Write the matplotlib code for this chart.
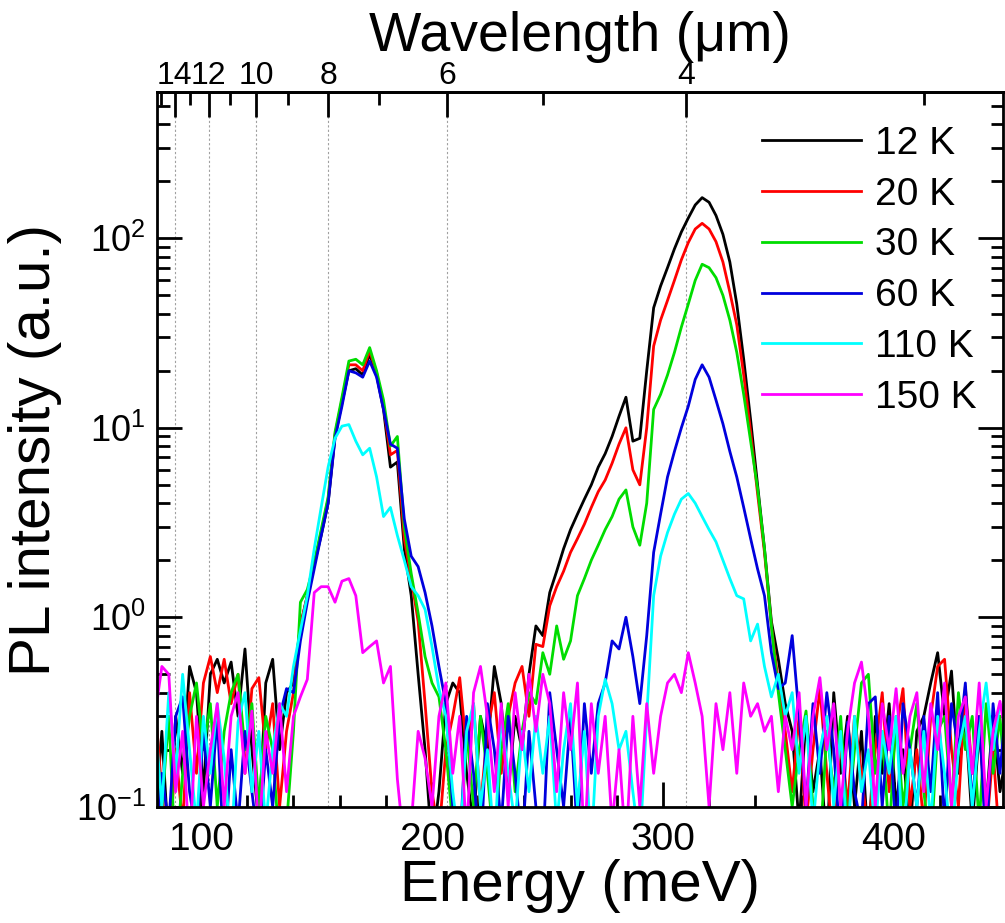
import numpy as np
import matplotlib
matplotlib.use('Agg')
import matplotlib.pyplot as plt
from matplotlib.ticker import FixedLocator, MultipleLocator, LogLocator, NullFormatter

plt.rcParams['font.family'] = ['Liberation Sans', 'DejaVu Sans']
plt.rcParams['mathtext.fontset'] = 'custom'
plt.rcParams['mathtext.rm'] = 'Liberation Sans'

# energy grid (meV), 3 meV steps
energy = np.arange(80, 450, 3)

labels = ['12 K', '20 K', '30 K', '60 K', '110 K', '150 K']
colors = ['#000000', '#ff0000', '#00dd00', '#0000dd', '#00ffff', '#ff00ff']

pl_12K = [0.08, 0.25, 0.06, 0.3, 0.15, 0.55, 0.4, 0.12, 0.5, 0.6, 0.45, 0.58, 0.3, 0.68, 0.2, 0.08, 0.45, 0.6, 0.2, 0.4,
          0.45, 0.9, 1.3, 1.9, 2.7, 4.0, 9.0, 13.5, 20, 20.5, 19, 24.5, 19, 12.5, 6.2, 6.6, 2.3, 1.3, 0.5, 0.2,
          0.06, 0.12, 0.35, 0.45, 0.4, 0.15, 0.08, 0.3, 0.2, 0.55, 0.35, 0.12, 0.3, 0.2, 0.5, 0.9,
          0.8, 1.35, 1.75, 2.3, 2.9, 3.5, 4.2, 5.0, 6.2, 7.3, 9.0, 11.5, 14.5, 8.5, 8.8, 20, 43, 56, 70, 88,
          108, 128, 150, 164, 155, 132, 105, 75, 45, 23, 11, 5, 2.3, 0.95, 0.6, 0.35,
          0.25, 0.08, 0.3, 0.12, 0.2, 0.06, 0.4, 0.15, 0.3, 0.1, 0.25, 0.06, 0.3, 0.15, 0.35, 0.1,
          0.2, 0.07, 0.25, 0.3, 0.45, 0.65, 0.3, 0.52, 0.15, 0.3, 0.08, 0.25, 0.1, 0.3, 0.12, 0.2]
pl_20K = [0.35, 0.12, 0.05, 0.2, 0.08, 0.4, 0.15, 0.45, 0.62, 0.4, 0.6, 0.35, 0.5, 0.15, 0.42, 0.48, 0.2, 0.35, 0.1, 0.25,
          0.4, 0.9, 1.3, 1.9, 2.8, 4.2, 9.2, 14, 21.5, 21.5, 20, 25.5, 19.5, 13, 7.2, 7.6, 2.6, 1.6, 0.95, 0.35,
          0.12, 0.07, 0.2, 0.3, 0.48, 0.2, 0.35, 0.1, 0.25, 0.4, 0.15, 0.3, 0.45, 0.55, 0.3, 0.72,
          0.7, 1.15, 1.45, 1.75, 2.2, 2.6, 3.1, 3.8, 4.6, 5.3, 6.5, 8.2, 10, 6.0, 5.0, 10, 27, 37, 47, 60,
          77, 95, 112, 120, 112, 96, 75, 52, 35, 19, 9.5, 4.5, 2.2, 0.9, 0.45, 0.25,
          0.12, 0.3, 0.08, 0.2, 0.42, 0.15, 0.06, 0.25, 0.1, 0.3, 0.15, 0.07, 0.2, 0.4, 0.12, 0.25,
          0.42, 0.1, 0.2, 0.08, 0.3, 0.55, 0.6, 0.2, 0.1, 0.43, 0.15, 0.3, 0.07, 0.2, 0.06, 0.15]
pl_30K = [0.25, 0.1, 0.3, 0.05, 0.15, 0.3, 0.45, 0.2, 0.35, 0.1, 0.25, 0.4, 0.5, 0.2, 0.35, 0.1, 0.3, 0.2, 0.06, 0.08,
          0.25, 1.2, 1.4, 1.95, 2.9, 4.3, 9.5, 14.5, 22.5, 23, 21.5, 26.5, 20, 14, 8, 9, 3.0, 1.7, 1.05, 0.62,
          0.45, 0.38, 0.2, 0.08, 0.05, 0.25, 0.1, 0.3, 0.15, 0.06, 0.2, 0.35, 0.12, 0.25, 0.4, 0.35,
          0.65, 0.5, 0.9, 0.6, 0.75, 1.3, 1.6, 2.0, 2.4, 2.9, 3.4, 4.2, 4.7, 3.0, 2.4, 4.0, 12.5, 15, 19, 25,
          34, 45, 60, 73, 70, 62, 50, 37, 25, 15, 8.5, 4.8, 2.3, 0.9, 0.4, 0.2,
          0.1, 0.2, 0.32, 0.1, 0.06, 0.25, 0.12, 0.3, 0.08, 0.2, 0.45, 0.5, 0.15, 0.25, 0.07, 0.3,
          0.1, 0.2, 0.35, 0.12, 0.06, 0.25, 0.3, 0.1, 0.4, 0.2, 0.3, 0.08, 0.35, 0.15, 0.3, 0.1]
pl_60K = [0.06, 0.15, 0.08, 0.3, 0.38, 0.12, 0.07, 0.25, 0.1, 0.3, 0.05, 0.2, 0.08, 0.25, 0.12, 0.06, 0.2, 0.1, 0.3, 0.42,
          0.4, 0.75, 1.2, 1.8, 2.7, 4.0, 8.8, 13, 20, 19.5, 18.5, 22.5, 18.5, 12.5, 8.2, 7.8, 3.3, 2.1, 1.85, 1.35,
          0.9, 0.55, 0.35, 0.1, 0.06, 0.3, 0.15, 0.05, 0.35, 0.2, 0.08, 0.3, 0.15, 0.06, 0.25, 0.1,
          0.06, 0.4, 0.2, 0.1, 0.3, 0.07, 0.35, 0.15, 0.35, 0.45, 0.75, 0.68, 1.0, 0.62, 0.35, 0.8, 2.2, 3.5, 5.5, 7.5,
          10, 13, 18, 21.5, 18.5, 14, 10.5, 7.5, 5.5, 3.8, 2.6, 1.8, 1.3, 0.65, 0.42, 0.45,
          0.8, 0.3, 0.1, 0.35, 0.15, 0.4, 0.2, 0.06, 0.28, 0.12, 0.08, 0.35, 0.38, 0.1, 0.3, 0.07,
          0.35, 0.2, 0.1, 0.3, 0.12, 0.4, 0.08, 0.35, 0.2, 0.45, 0.1, 0.3, 0.06, 0.35, 0.15, 0.4]
pl_110K = [0.3, 0.1, 0.4, 0.15, 0.5, 0.2, 0.08, 0.3, 0.15, 0.35, 0.18, 0.06, 0.28, 0.4, 0.12, 0.25, 0.08, 0.2, 0.35, 0.3,
           0.55, 0.85, 1.3, 2.3, 3.8, 6.2, 8.8, 10.2, 10.4, 8.5, 7.2, 7.8, 5.5, 3.4, 3.8, 2.7, 2.0, 1.45, 1.3, 1.1,
           0.7, 0.42, 0.3, 0.12, 0.06, 0.25, 0.35, 0.1, 0.2, 0.06, 0.3, 0.15, 0.08, 0.25, 0.12, 0.3,
           0.15, 0.3, 0.08, 0.2, 0.35, 0.1, 0.25, 0.06, 0.3, 0.47, 0.35, 0.2, 0.25, 0.12, 0.06, 0.3, 1.3, 2.1, 2.8, 3.5,
           4.2, 4.5, 4.0, 3.4, 2.9, 2.5, 2.0, 1.6, 1.3, 1.25, 0.75, 0.92, 0.55, 0.38, 0.5, 0.3,
           0.4, 0.15, 0.3, 0.08, 0.2, 0.3, 0.1, 0.25, 0.06, 0.3, 0.12, 0.2, 0.07, 0.25, 0.15, 0.3,
           0.06, 0.2, 0.1, 0.25, 0.08, 0.3, 0.15, 0.06, 0.2, 0.3, 0.1, 0.25, 0.45, 0.2, 0.35, 0.28]
pl_150K = [0.3, 0.55, 0.5, 0.12, 0.25, 0.06, 0.3, 0.1, 0.2, 0.35, 0.1, 0.3, 0.4, 0.15, 0.32, 0.07, 0.25, 0.15, 0.35, 0.12,
           0.3, 0.38, 0.47, 1.35, 1.45, 1.45, 1.2, 1.55, 1.6, 1.3, 0.65, 0.7, 0.75, 0.45, 0.55, 0.14, 0.06, 0.08, 0.25, 0.18,
           0.1, 0.3, 0.45, 0.15, 0.3, 0.07, 0.4, 0.55, 0.3, 0.12, 0.35, 0.1, 0.4, 0.2, 0.5, 0.25,
           0.5, 0.35, 0.12, 0.4, 0.2, 0.45, 0.06, 0.35, 0.15, 0.3, 0.08, 0.2, 0.06, 0.3, 0.1, 0.35, 0.15, 0.3, 0.45, 0.5,
           0.4, 0.65, 0.45, 0.3, 0.1, 0.35, 0.2, 0.4, 0.15, 0.45, 0.3, 0.35, 0.25, 0.3, 0.12, 0.3,
           0.2, 0.4, 0.1, 0.3, 0.48, 0.2, 0.35, 0.1, 0.25, 0.45, 0.58, 0.3, 0.1, 0.35, 0.2, 0.42,
           0.15, 0.3, 0.4, 0.12, 0.35, 0.2, 0.45, 0.1, 0.3, 0.38, 0.15, 0.45, 0.1, 0.25, 0.36, 0.22]

spectra = [pl_12K, pl_20K, pl_30K, pl_60K, pl_110K, pl_150K]

wl_major = [4, 6, 8, 10, 12, 14]
wl_minor = [3, 5, 7, 9, 11, 13, 15]
hc = 1239.84  # meV*um


def e2l(x):
    x = np.asarray(x, dtype=float)
    with np.errstate(divide='ignore'):
        return hc / x


fig = plt.figure(figsize=(10.05, 9.23), dpi=100)
ax = fig.add_axes([0.156, 0.126, 0.842, 0.774])

for lam in wl_major:
    ax.axvline(hc / lam, color='#a0a0a0', lw=0.8, ls=(0, (2, 2)), zorder=0)

for y, lab, c in zip(spectra, labels, colors):
    ax.plot(energy, y, color=c, lw=2, label=lab)

ax.set_yscale('log')
ax.set_xlim(80.8, 447.3)
ax.set_ylim(0.1, 590)
ax.xaxis.set_major_locator(MultipleLocator(100))
ax.xaxis.set_minor_locator(MultipleLocator(20))
ax.yaxis.set_major_locator(LogLocator(base=10, numticks=10))
ax.yaxis.set_minor_locator(LogLocator(base=10, subs=np.arange(2, 10), numticks=20))
ax.yaxis.set_minor_formatter(NullFormatter())
ax.tick_params(which='both', direction='in', right=True, top=False, width=2)
ax.tick_params(which='major', length=18)
ax.tick_params(axis='x', which='major', labelsize=28, pad=11)
ax.tick_params(axis='y', which='major', labelsize=26, pad=8)
ax.tick_params(which='minor', length=9)
for s in ax.spines.values():
    s.set_linewidth(2)

ax.set_xlabel('Energy (meV)', fontsize=42, labelpad=1)
ax.set_ylabel('PL intensity (a.u.)', fontsize=42, labelpad=10)

sec = ax.secondary_xaxis('top', functions=(e2l, e2l))
sec.set_xticks(wl_major)
sec.xaxis.set_minor_locator(FixedLocator(wl_minor))
sec.tick_params(which='both', direction='in', width=2)
sec.tick_params(which='major', length=18, labelsize=23, pad=1)
sec.tick_params(which='minor', length=9)
sec.spines['top'].set_linewidth(2)
sec.set_xlabel('Wavelength (\u03bcm)', fontsize=40, labelpad=7)

ax.legend(loc='upper left', bbox_to_anchor=(0.715, 0.953), frameon=False,
          fontsize=28, handlelength=2.55, handletextpad=0.35, labelspacing=0.38,
          borderpad=0, borderaxespad=0)

fig.savefig('out.png', dpi=100)
